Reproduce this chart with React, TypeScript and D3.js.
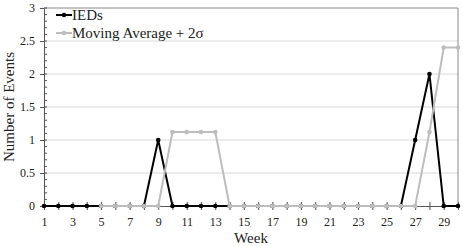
import { useEffect, useRef } from "react";
import * as d3 from "d3";

// weeks 1..30
const weeks = d3.range(1, 31);
// IED counts per week
const ieds = [0, 0, 0, 0, 0, 0, 0, 0, 1, 0, 0, 0, 0, 0, 0, 0, 0, 0, 0, 0, 0, 0, 0, 0, 0, 0, 1, 2, 0, 0];
// moving average + 2 sigma, starts at week 5
const maWeeks = d3.range(5, 31);
const movingAvg = [0, 0, 0, 0, 0, 1.12, 1.12, 1.12, 1.12, 0, 0, 0, 0, 0, 0, 0, 0, 0, 0, 0, 0, 0, 0, 1.12, 2.4, 2.4];
const yTicks = [0, 0.5, 1, 1.5, 2, 2.5, 3];
const xTickLabels = [1, 3, 5, 7, 9, 11, 13, 15, 17, 19, 21, 23, 25, 27, 29];

export default function App() {
  const ref = useRef<SVGSVGElement>(null);

  useEffect(() => {
    const svg = d3.select(ref.current);
    svg.selectAll("*").remove();
    const margin = { top: 8, right: 5, bottom: 40, left: 44 };
    const width = 463 - margin.left - margin.right;
    const height = 246 - margin.top - margin.bottom;
    const font = '"Times New Roman", "Liberation Serif", Times, "DejaVu Serif", serif';

    const x = d3.scaleLinear().domain([1, 30]).range([0, width]);
    const y = d3.scaleLinear().domain([0, 3]).range([height, 0]);

    const g = svg.append("g").attr("transform", `translate(${margin.left},${margin.top})`);

    // gridlines
    g.selectAll(".grid")
      .data(yTicks.filter((d) => d > 0 && d < 3))
      .enter()
      .append("line")
      .attr("x1", 0)
      .attr("x2", width)
      .attr("y1", (d) => y(d))
      .attr("y2", (d) => y(d))
      .attr("stroke", "#d9d9d9")
      .attr("stroke-width", 1);

    // box top + right
    g.append("path")
      .attr("d", `M0,${y(3)}H${width}V${height}`)
      .attr("fill", "none")
      .attr("stroke", "#888")
      .attr("stroke-width", 1);

    // minor y ticks (inside)
    g.selectAll(".minor")
      .data(d3.range(0, 31).map((d) => d / 10))
      .enter()
      .append("line")
      .attr("x1", 0)
      .attr("x2", 3)
      .attr("y1", (d) => y(d))
      .attr("y2", (d) => y(d))
      .attr("stroke", "#555");

    // y axis
    const yAxis = g
      .append("g")
      .call(d3.axisLeft(y).tickValues(yTicks).tickSize(4).tickFormat((d) => String(d)));
    yAxis.attr("font-family", font).attr("font-size", 12);
    yAxis.select(".domain").attr("stroke", "#555");
    yAxis.selectAll("line").attr("stroke", "#555");
    yAxis.selectAll("text").attr("fill", "#222").attr("dx", -2);

    // x axis
    const xAxis = g
      .append("g")
      .attr("transform", `translate(0,${height})`)
      .call(d3.axisBottom(x).tickValues(weeks).tickSize(4).tickFormat((d) => (xTickLabels.includes(+d) ? String(d) : "")));
    xAxis.attr("font-family", font).attr("font-size", 12);
    xAxis.select(".domain").attr("stroke", "#555");
    xAxis.selectAll("line").attr("stroke", "#555").attr("y1", -4);
    xAxis.selectAll("text").attr("fill", "#222").attr("dy", "1.05em");

    const line = d3
      .line<[number, number]>()
      .x((d) => x(d[0]))
      .y((d) => y(d[1]));

    const iedPts: [number, number][] = weeks.map((w, i) => [w, ieds[i]]);
    const maPts: [number, number][] = maWeeks.map((w, i) => [w, movingAvg[i]]);

    const drawSeries = (pts: [number, number][], color: string, r: number) => {
      g.append("path").datum(pts).attr("d", line).attr("fill", "none").attr("stroke", color).attr("stroke-width", 2);
      g.selectAll(null)
        .data(pts)
        .enter()
        .append("circle")
        .attr("cx", (d) => x(d[0]))
        .attr("cy", (d) => y(d[1]))
        .attr("r", r)
        .attr("fill", color);
    };

    drawSeries(iedPts, "#000", 2.3);
    drawSeries(maPts, "#bdbdbd", 2.3);

    // legend
    const legend = [
      { label: "IEDs", color: "#000" },
      { label: "Moving Average + 2σ", color: "#bdbdbd" },
    ];
    const lg = svg.append("g").attr("transform", "translate(56,15)").attr("font-family", font).attr("font-size", 15);
    legend.forEach((l, i) => {
      const row = lg.append("g").attr("transform", `translate(0,${i * 18})`);
      row.append("line").attr("x1", 0).attr("x2", 16).attr("stroke", l.color).attr("stroke-width", 2);
      row.append("circle").attr("cx", 8).attr("r", 2.3).attr("fill", l.color);
      row.append("text").attr("x", 16).attr("dy", "0.35em").attr("fill", "#222").text(l.label);
    });

    // axis titles
    svg
      .append("text")
      .attr("transform", `translate(14,${margin.top + height / 2}) rotate(-90)`)
      .attr("text-anchor", "middle")
      .attr("font-family", font)
      .attr("font-size", 15)
      .attr("fill", "#222")
      .text("Number of Events");
    svg
      .append("text")
      .attr("x", margin.left + width / 2)
      .attr("y", 243)
      .attr("text-anchor", "middle")
      .attr("font-family", font)
      .attr("font-size", 15)
      .attr("fill", "#222")
      .text("Week");
  }, []);

  return (
    <svg
      ref={ref}
      width={463}
      height={246}
      style={{ position: "absolute", left: 0, top: 0, background: "#fff" }}
    />
  );
}
